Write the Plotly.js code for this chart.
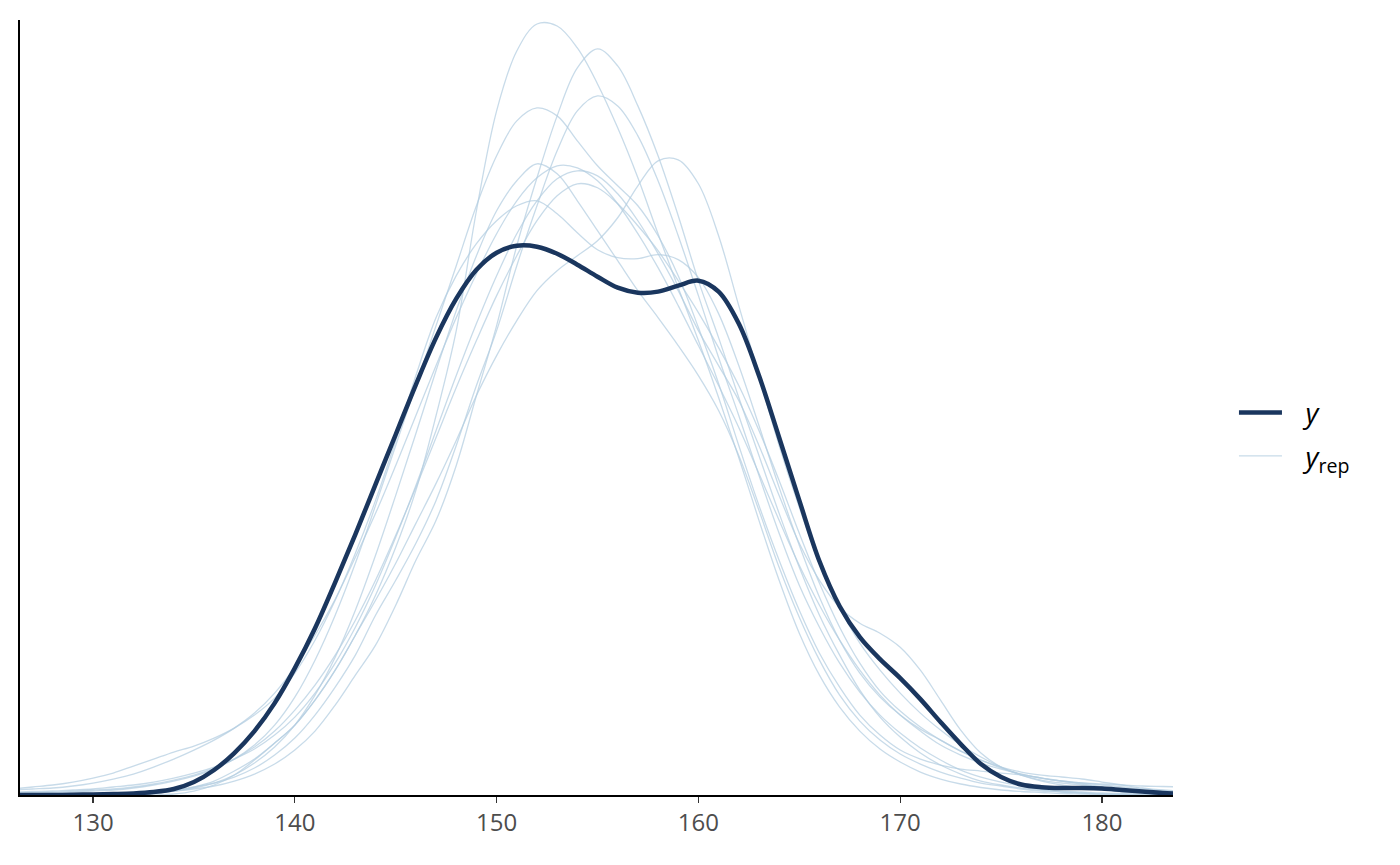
<!DOCTYPE html>
<html>
<head>
<meta charset="utf-8">
<script src="https://cdn.plot.ly/plotly-3.0.1.min.js"></script>
<style>html,body{margin:0;padding:0;background:#fff;}#chart{width:1400px;height:865px;}</style>
</head>
<body>
<div id="chart"></div>
<script>
// x grid (value of the variable)
const xGrid = [126,127,128,129,130,131,132,133,134,135,136,137,138,139,140,141,142,143,144,145,146,147,148,149,150,151,152,153,154,155,156,157,158,159,160,161,162,163,164,165,166,167,168,169,170,171,172,173,174,175,176,177,178,179,180,181,182,183,184];

// observed density (arbitrary units, y axis unlabeled)
const yObs = [0,0,0,0.3,0.6,1,1.6,3,6,13,
  25,42,64,92,127,167,213,261,311,361,
  411,458,497,526,543,550,549,542,531,519,
  508,503,504,510,515,504,472,420,358,295,
  234,189,158,136,117,96,73,51,31,18,
  10.5,7.8,7,7,6.5,5,3.5,2,1];

// replicated densities
const yRep1 = [0,0,0,0,0,0.5,1,2,4,8,
  14,24,36,52,70,95,125,160,200,248,
  305,380,465,585,685,745,772,770,748,712,
  668,618,562,508,455,398,338,275,215,162,
  120,88,64,46,33,23,16,11,7.5,5,
  3.5,2.5,1.5,1,0.5,0,0,0,0];
const yRep2 = [0,0,0,0,0.5,1,1.5,2.5,4,6,
  9,14,21,31,45,64,90,120,150,190,
  235,275,330,400,470,550,618,680,728,747,
  730,690,640,580,515,458,398,340,282,228,
  180,140,105,78,58,42,30,21,14,10,
  7,5,3,2,1,0.5,0,0,0];
const yRep3 = [0,0,0,0,1,1.5,2,3.5,5,8,
  12,18,27,40,57,80,108,140,180,215,
  252,295,350,410,465,530,590,645,685,700,
  690,660,615,560,500,438,380,320,262,210,
  168,132,103,80,62,47,35,25,18,13,
  9,6,4,3,2,1.5,1,0.5,0];
const yRep4 = [1,1.5,2,3,4,5,7,10,14,19,
  26,36,50,70,98,135,180,232,290,350,
  410,470,530,590,640,675,688,680,655,630,
  610,590,560,520,468,412,350,290,235,185,
  142,108,80,60,45,36,30,26,24,22,
  20,17,14,11,8,5,3,2,1];
const yRep5 = [0,0,0,0,0,0,0,0,1,4,
  10,20,35,52,70,95,125,160,195,232,
  272,312,355,400,440,475,505,525,540,555,
  578,610,635,636,612,560,490,420,350,288,
  232,188,152,125,102,82,65,50,38,28,
  20,14,10,7,5,3,2,1,0.5];
const yRep6 = [0,0,0,0,0,0.5,1,2,4,7,
  12,20,32,48,70,100,138,185,240,300,
  362,425,485,540,585,615,632,622,595,565,
  535,505,478,450,420,385,340,285,228,178,
  135,100,74,55,41,31,23,17,12,9,
  6,4,3,2,1,0.5,0,0,0];
const yRep7 = [5,6,7,9,12,16,21,28,36,45,
  55,67,82,102,128,160,196,238,282,330,
  380,430,478,522,562,595,618,630,628,615,
  592,562,528,490,450,410,368,322,275,230,
  190,155,125,100,80,64,50,40,32,26,
  21,17,14,12,11,10,9,8.5,8];
const yRep8 = [3,3.5,4,5,6,8,10,13,17,22,
  28,36,46,60,78,102,132,168,210,258,
  310,365,420,472,520,562,595,617,625,620,
  602,575,542,505,465,430,395,350,300,252,
  215,188,172,162,148,125,95,65,42,28,
  20,15,12,10,8,6,4,3,2];
const yRep9 = [2,2.5,3,4,5,6,8,11,15,20,
  27,36,48,64,85,110,140,175,215,260,
  308,358,408,455,500,540,575,600,612,608,
  592,570,545,515,483,448,410,365,315,262,
  212,168,132,104,84,68,55,44,35,28,
  23,20,18,16,13,10,7,5,4];
const yRep10 = [6,8,10,13,17,22,29,36,43,49,
  57,67,80,97,122,155,195,242,295,355,
  420,478,520,552,575,590,595,582,563,546,
  538,537,541,536,518,482,430,370,308,250,
  198,155,122,98,80,66,55,44,35,27,
  21,17,14,12,10,8,6,4.5,3];

const repSeries = [yRep1,yRep2,yRep3,yRep4,yRep5,yRep6,yRep7,yRep8,yRep9,yRep10];
const xTicks = [130,140,150,160,170,180];
const legendNames = ['\u2002\u2009<i>y</i>', '\u2002\u2009<i>y</i><sub>rep</sub>'];

const lightColor = 'rgba(179,205,224,0.72)';
const darkColor = '#1a365e';

const traces = repSeries.map((ys, i) => ({
  x: xGrid, y: ys, type: 'scatter', mode: 'lines',
  line: {color: lightColor, width: 1.3, shape: 'spline', smoothing: 1},
  name: legendNames[1], legendgroup: 'rep', showlegend: i === 0, legendrank: 2,
  hoverinfo: 'skip'
}));
traces.push({
  x: xGrid, y: yObs, type: 'scatter', mode: 'lines',
  line: {color: darkColor, width: 4.5, shape: 'spline', smoothing: 1},
  name: legendNames[0], legendrank: 1, hoverinfo: 'skip'
});

const layout = {
  width: 1400, height: 865,
  paper_bgcolor: '#fff', plot_bgcolor: '#fff',
  margin: {l: 20, r: 227, t: 20, b: 70},
  font: {family: 'Open Sans, sans-serif', color: '#000'},
  showlegend: true,
  legend: {
    xref: 'container', yref: 'container',
    x: 0.8814, y: 0.498, xanchor: 'left', yanchor: 'middle',
    font: {size: 28, color: '#000', family: 'Open Sans, sans-serif'},
    itemwidth: 43,
    bgcolor: 'rgba(0,0,0,0)', tracegroupgap: 4
  },
  xaxis: {
    range: [126.38, 183.52],
    tickvals: xTicks, ticktext: xTicks.map(String),
    ticks: 'outside', ticklen: 6, tickwidth: 1.3, tickcolor: '#333',
    tickfont: {size: 24, color: '#4d4d4d'},
    showline: true, linecolor: '#000', linewidth: 1.6,
    showgrid: false, zeroline: false
  },
  yaxis: {
    range: [0, 776],
    showticklabels: false, ticks: '',
    showline: true, linecolor: '#000', linewidth: 1.6,
    showgrid: false, zeroline: false
  }
};

Plotly.newPlot('chart', traces, layout, {displayModeBar: false, staticPlot: true});
</script>
</body>
</html>
